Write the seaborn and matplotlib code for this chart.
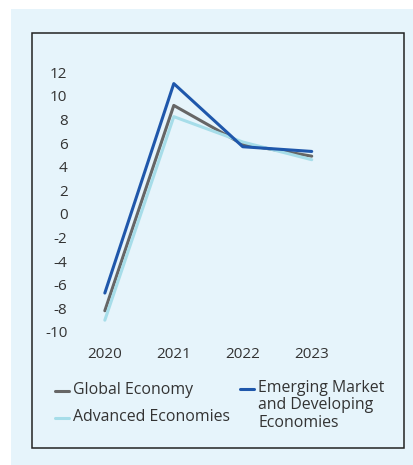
import pandas as pd
import matplotlib.pyplot as plt
import seaborn as sns
from matplotlib.patches import Rectangle
from matplotlib.lines import Line2D

years = [2020, 2021, 2022, 2023]
global_economy = [-8.2, 9.2, 5.9, 4.9]
advanced_economies = [-9.0, 8.25, 6.1, 4.6]
emerging_developing = [-6.7, 11.05, 5.7, 5.3]

series_names = ["Global Economy", "Advanced Economies",
                "Emerging Market\nand Developing\nEconomies"]
series_colors = ["#666666", "#a6dde9", "#1f57ab"]

df = pd.DataFrame({
    "year": years * 3,
    "growth": global_economy + advanced_economies + emerging_developing,
    "series": [series_names[0]] * 4 + [series_names[1]] * 4 + [series_names[2]] * 4,
})

sns.set_style("white")
plt.rcParams['font.family'] = ['Open Sans', 'DejaVu Sans']
plt.rcParams['axes.unicode_minus'] = False

W, H = 413, 465
fig = plt.figure(figsize=(W / 100, H / 100), dpi=100, facecolor="white")

# light blue panel + black frame
fig.patches.append(Rectangle((11 / W, 0), 1 - 11 / W, (H - 9) / H,
                             transform=fig.transFigure, facecolor="#e6f4fb",
                             edgecolor="none", zorder=-3))
fig.patches.append(Rectangle((32 / W, 1 - 448 / H), (404 - 32) / W, (448 - 33) / H,
                             transform=fig.transFigure, facecolor="none",
                             edgecolor="#222222", linewidth=1.1, zorder=-2))

ax = fig.add_axes([80 / W, 1 - 340 / H, 300 / W, 280 / H])
ax.set_facecolor("none")
sns.lineplot(data=df, x="year", y="growth", hue="series", palette=series_colors,
             hue_order=series_names, linewidth=2.2, ax=ax, legend=False)

ax.set_xlim(2019.64, 2023.99)
ax.set_ylim(-10.68, 13.05)
ax.set_xticks(years)
ax.set_xticklabels([str(y) for y in years])
ax.set_yticks(range(-10, 13, 2))
ax.tick_params(axis="both", length=0, labelsize=11, colors="#333333")
ax.tick_params(axis="x", pad=5)
ax.tick_params(axis="y", pad=9)
ax.set_xlabel("")
ax.set_ylabel("")
for s in ax.spines.values():
    s.set_visible(False)

# legend, drawn by hand so the three-line entry keeps its key on the first line
legend_pos = [(55, 391), (55, 418), (240, 389)]  # key start, pixels from top-left
for (px, py), name, color in zip(legend_pos, series_names, series_colors):
    fig.lines.append(Line2D([px / W, (px + 14) / W], [1 - py / H, 1 - py / H],
                            transform=fig.transFigure, color=color, linewidth=2.2))
    fig.text((px + 18) / W, 1 - (py - 9) / H, name, fontsize=11.4, color="#333333",
             va="top", ha="left", linespacing=1.12)

fig.savefig("out.png", dpi=100, facecolor="white")
